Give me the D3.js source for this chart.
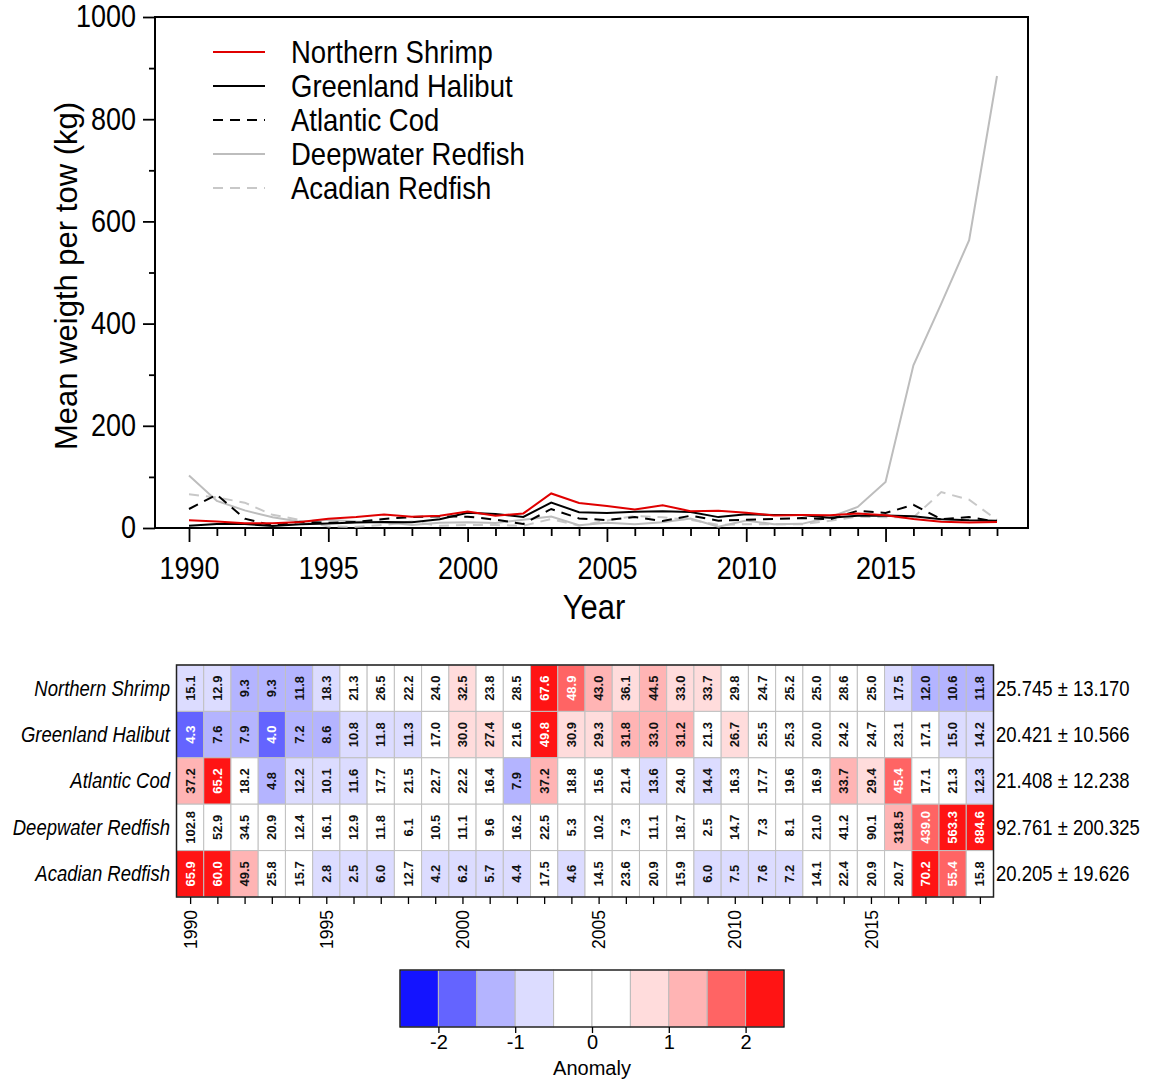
<!DOCTYPE html>
<html>
<head>
<meta charset="utf-8">
<title>Mean weight per tow</title>
<script src="https://d3js.org/d3.v7.min.js"></script>
<style>
body { margin:0; background:#fff; font-family: Arial, "Liberation Sans", sans-serif; }
svg text { font-family: Arial, "Liberation Sans", sans-serif; }
</style>
</head>
<body>
<svg id="chart" width="1149" height="1084"></svg>
<script>
// ---- data ----
var years = d3.range(1990, 2020);
var species = ["Northern Shrimp", "Greenland Halibut", "Atlantic Cod", "Deepwater Redfish", "Acadian Redfish"];

var shrimp   = [15.1,12.9,9.3,9.3,11.8,18.3,21.3,26.5,22.2,24.0,32.5,23.8,28.5,67.6,48.9,43.0,36.1,44.5,33.0,33.7,29.8,24.7,25.2,25.0,28.6,25.0,17.5,12.0,10.6,11.8];
var halibut  = [4.3,7.6,7.9,4.0,7.2,8.6,10.8,11.8,11.3,17.0,30.0,27.4,21.6,49.8,30.9,29.3,31.8,33.0,31.2,21.3,26.7,25.5,25.3,20.0,24.2,24.7,23.1,17.1,15.0,14.2];
var cod      = [37.2,65.2,18.2,4.8,12.2,10.1,11.6,17.7,21.5,22.7,22.2,16.4,7.9,37.2,18.8,15.6,21.4,13.6,24.0,14.4,16.3,17.7,19.6,16.9,33.7,29.4,45.4,17.1,21.3,12.3];
var deepRed  = [102.8,52.9,34.5,20.9,12.4,16.1,12.9,11.8,6.1,10.5,11.1,9.6,16.2,22.5,5.3,10.2,7.3,11.1,18.7,2.5,14.7,7.3,8.1,21.0,41.2,90.1,318.5,439.0,563.3,884.6];
var acadRed  = [65.9,60.0,49.5,25.8,15.7,2.8,2.5,6.0,12.7,4.2,6.2,5.7,4.4,17.5,4.6,14.5,23.6,20.9,15.9,6.0,7.5,7.6,7.2,14.1,22.4,20.9,20.7,70.2,55.4,15.8];

var rowMeans = [25.745, 20.421, 21.408, 92.761, 20.205];
var rowSds   = [13.170, 10.566, 12.238, 200.325, 19.626];

var yTicks = [0, 200, 400, 600, 800, 1000];
var anomalyTicks = [-2, -1, 0, 1, 2];
var binColors = ["#1414ff","#6464ff","#b4b4ff","#dcdcff","#ffffff","#ffffff","#ffdcdc","#ffb4b4","#ff6464","#ff1414"];

var seriesValues = [shrimp, halibut, cod, deepRed, acadRed];
var lineColor = ["#e00000", "#000000", "#000000", "#bdbdbd", "#c8c8c8"];
var lineDash  = [null, null, "10,7", null, "10,7"];

var svg = d3.select("#chart");
var SY = 1.15; // the original text is a bit taller than wide

function stretch(sel) {
  sel.each(function() {
    var t = d3.select(this), yy = +t.attr("y") || 0;
    t.attr("transform", "translate(0," + yy + ") scale(1," + SY + ") translate(0," + (-yy) + ")");
  });
}

// ---- top line chart ----
var x = d3.scaleLinear().domain([1990, 2019]).range([189, 997]);
var y = d3.scaleLinear().domain([0, 1000]).range([528, 17]);
var left = 155, right = 1028;

svg.append("rect")
  .attr("x", left).attr("y", y(1000))
  .attr("width", right - left).attr("height", y(0) - y(1000))
  .attr("fill", "none").attr("stroke", "#000").attr("stroke-width", 2);

var yAxis = svg.append("g").attr("transform", "translate(" + left + ",0)")
  .call(d3.axisLeft(y).tickValues(yTicks).tickSize(12).tickPadding(7).tickFormat(d3.format("d")));
svg.append("g").attr("transform", "translate(" + left + ",0)")
  .call(d3.axisLeft(y).tickValues([100, 300, 500, 700, 900]).tickSize(6).tickFormat(""));

var xAxis = svg.append("g").attr("transform", "translate(0," + y(0) + ")")
  .call(d3.axisBottom(x).tickValues(years.filter(function(d){ return d % 5 === 0; }))
    .tickSize(14).tickPadding(15).tickFormat(d3.format("d")));
svg.append("g").attr("transform", "translate(0," + y(0) + ")")
  .call(d3.axisBottom(x).tickValues(years.filter(function(d){ return d % 5 !== 0; }))
    .tickSize(8).tickFormat(""));

svg.selectAll(".domain").remove();
svg.selectAll(".tick line").attr("stroke", "#000").attr("stroke-width", 1.8);
yAxis.selectAll("text").attr("font-size", 27).attr("fill", "#000").call(stretch);
xAxis.selectAll("text").attr("font-size", 27).attr("fill", "#000").call(stretch);

svg.append("text").attr("x", 594).attr("y", 607).attr("dy", "0.35em").attr("text-anchor", "middle")
  .attr("font-size", 31).text("Year").call(stretch);
svg.append("text").attr("transform", "translate(77,276) rotate(-90)").attr("text-anchor", "middle")
  .attr("font-size", 31).text("Mean weigth per tow (kg)");

var line = d3.line().x(function(d, i){ return x(years[i]); }).y(function(d){ return y(d); });

// draw grey first so the dark lines stay on top
[4, 3, 2, 1, 0].forEach(function(k) {
  svg.append("path").datum(seriesValues[k])
    .attr("d", line).attr("fill", "none")
    .attr("stroke", lineColor[k]).attr("stroke-width", 2)
    .attr("stroke-dasharray", lineDash[k]);
});

// legend
species.forEach(function(s, k) {
  var ly = 52 + k * 34;
  svg.append("line").attr("x1", 213).attr("x2", 265).attr("y1", ly).attr("y2", ly)
    .attr("stroke", lineColor[k]).attr("stroke-width", 2).attr("stroke-dasharray", lineDash[k]);
  svg.append("text").attr("x", 291).attr("y", ly).attr("dy", "0.35em")
    .attr("font-size", 27.5).text(s).call(stretch);
});

// ---- heatmap ----
var hx = d3.scaleBand().domain(years).range([176.5, 993.5]);
var hy = d3.scaleBand().domain(species).range([665, 897]);
var anomColor = d3.scaleQuantize().domain([-2.5, 2.5]).range(binColors);

var cells = [];
species.forEach(function(s, r) {
  seriesValues[r].forEach(function(v, i) {
    var a = (v - rowMeans[r]) / rowSds[r];
    cells.push({ s: s, year: years[i], v: v, a: Math.max(-2.49, Math.min(2.49, a)) });
  });
});

svg.selectAll("rect.cell").data(cells).enter().append("rect")
  .attr("class", "cell")
  .attr("x", function(d){ return hx(d.year); })
  .attr("y", function(d){ return hy(d.s); })
  .attr("width", hx.bandwidth()).attr("height", hy.bandwidth())
  .attr("fill", function(d){ return anomColor(d.a); })
  .attr("stroke", "#c0c0c0").attr("stroke-width", 1);

svg.selectAll("text.cell").data(cells).enter().append("text")
  .attr("class", "cell")
  .attr("transform", function(d) {
    return "translate(" + (hx(d.year) + hx.bandwidth() / 2) + "," + (hy(d.s) + hy.bandwidth() / 2) + ") rotate(-90)";
  })
  .attr("text-anchor", "middle").attr("dy", "0.35em")
  .attr("font-size", 13).attr("font-weight", "bold")
  .attr("fill", function(d){ return Math.abs(d.a) >= 1.5 ? "#fff" : "#111"; })
  .text(function(d){ return d.v.toFixed(1); });

svg.append("rect").attr("x", 176.5).attr("y", 665).attr("width", 817).attr("height", 232)
  .attr("fill", "none").attr("stroke", "#222").attr("stroke-width", 1.5);

species.forEach(function(s, r) {
  var cy = hy(s) + hy.bandwidth() / 2;
  svg.append("text").attr("x", 170).attr("y", cy).attr("dy", "0.35em")
    .attr("text-anchor", "end").attr("font-size", 18.5).attr("font-style", "italic").text(s).call(stretch);
  svg.append("text").attr("x", 996).attr("y", cy).attr("dy", "0.35em")
    .attr("font-size", 18.5).text(rowMeans[r].toFixed(3) + " \u00b1 " + rowSds[r].toFixed(3)).call(stretch);
});

// heatmap year axis
var hxc = d3.scalePoint().domain(years).range([hx(1990) + hx.bandwidth() / 2, hx(2019) + hx.bandwidth() / 2]);
var hAxis = svg.append("g").attr("transform", "translate(0,897)")
  .call(d3.axisBottom(hxc).tickSize(7).tickFormat(function(d){ return d % 5 === 0 ? d : ""; }));
hAxis.select(".domain").remove();
hAxis.selectAll(".tick line").attr("stroke", "#000").attr("stroke-width", 1.3);
hAxis.selectAll("text")
  .attr("font-size", 17.5).attr("fill", "#000")
  .attr("text-anchor", "end")
  .attr("transform", "rotate(-90)")
  .attr("x", -13).attr("y", 0).attr("dy", "0.35em");

// ---- colour bar ----
var cb = d3.scaleLinear().domain([-2.5, 2.5]).range([400, 784]);
var bins = d3.range(10).map(function(i){ return -2.5 + i * 0.5; });
svg.selectAll("rect.bin").data(bins).enter().append("rect")
  .attr("class", "bin")
  .attr("x", function(d){ return cb(d); }).attr("y", 970)
  .attr("width", cb(0.5) - cb(0)).attr("height", 57)
  .attr("fill", function(d, i){ return binColors[i]; })
  .attr("stroke", "#bbb").attr("stroke-width", 1);
svg.append("rect").attr("x", 400).attr("y", 970).attr("width", 384).attr("height", 57)
  .attr("fill", "none").attr("stroke", "#111").attr("stroke-width", 1.3);
var cAxis = svg.append("g").attr("transform", "translate(0,1027)")
  .call(d3.axisBottom(cb).tickValues(anomalyTicks).tickSize(6).tickPadding(2)
    .tickFormat(function(d){ return String(d); }));
cAxis.select(".domain").remove();
cAxis.selectAll(".tick line").attr("stroke", "#000").attr("stroke-width", 1.3);
cAxis.selectAll("text").attr("font-size", 20).attr("fill", "#000");
svg.append("text").attr("x", 592).attr("y", 1068).attr("dy", "0.35em").attr("text-anchor", "middle")
  .attr("font-size", 20).text("Anomaly");
</script>
</body>
</html>
